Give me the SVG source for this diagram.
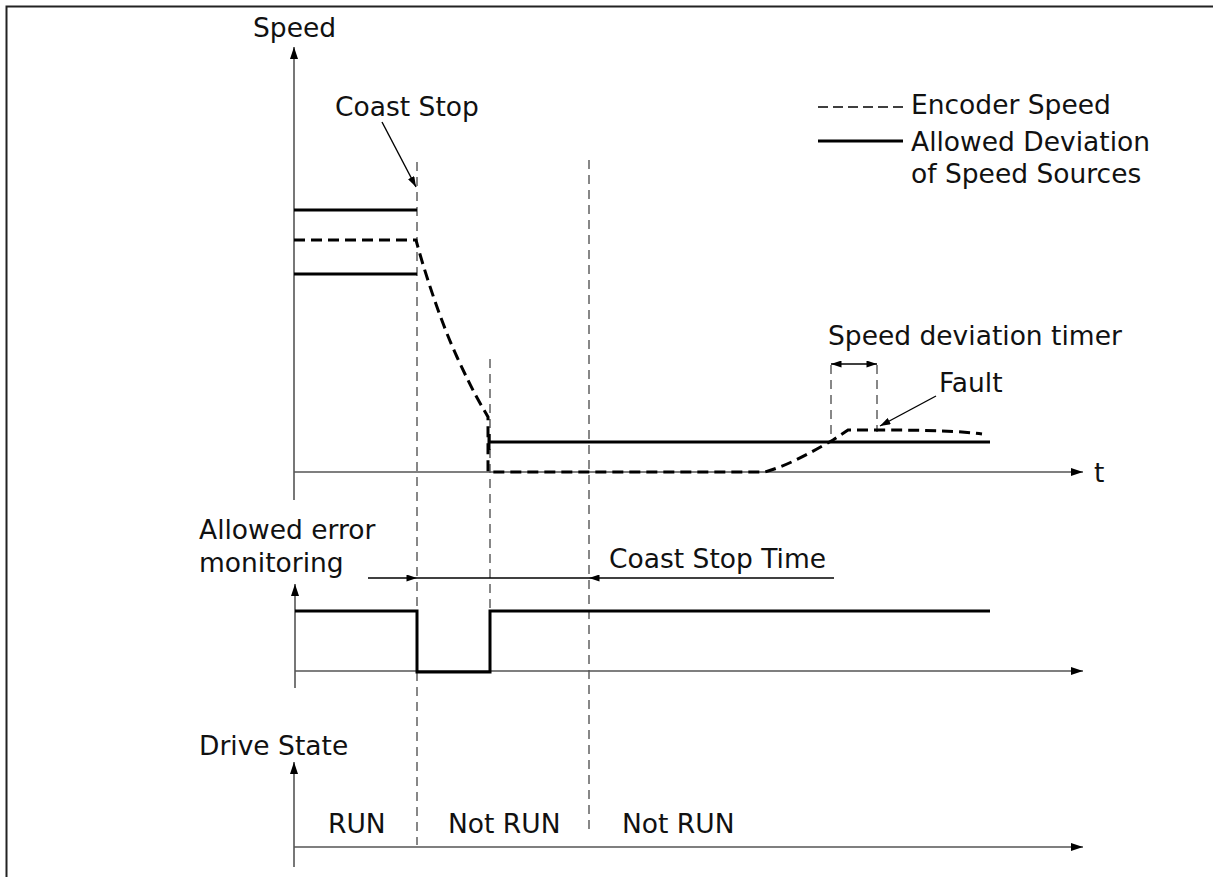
<svg xmlns="http://www.w3.org/2000/svg" width="1213" height="877" viewBox="0 0 1213 877">
<defs>
<marker id="ah" viewBox="0 0 12 8" refX="12" refY="4" markerWidth="12" markerHeight="8" markerUnits="userSpaceOnUse" orient="auto-start-reverse"><path d="M0,0 L12,4 L0,8 Z" fill="#000"/></marker>
<marker id="ahs" viewBox="0 0 12 8" refX="12" refY="4" markerWidth="11" markerHeight="7" markerUnits="userSpaceOnUse" orient="auto-start-reverse"><path d="M0,0 L12,4 L0,8 Z" fill="#000"/></marker>
</defs>
<style>
text{font-family:"DejaVu Sans","Verdana",sans-serif;font-size:26.5px;fill:#111}
.axis{stroke:#555;stroke-width:1.6;fill:none}
.vdash{stroke:#555;stroke-width:1.4;stroke-dasharray:9,6;fill:none}
.solid{stroke:#000;stroke-width:3;fill:none}
.enc{stroke:#000;stroke-width:3;stroke-dasharray:11,6;fill:none}
.thin{stroke:#000;stroke-width:1.4;fill:none}
</style>
<rect x="0" y="0" width="1213" height="877" fill="#fff"/>
<path d="M6.5,877 V6.5 H1213" stroke="#222" stroke-width="2" fill="none"/>

<g id="connectors">
<line class="vdash" x1="417" y1="162" x2="417" y2="845"/>
<line class="vdash" x1="490" y1="359" x2="490" y2="672"/>
<line class="vdash" x1="589" y1="160" x2="589" y2="832"/>
<line class="vdash" x1="831" y1="365" x2="831" y2="441"/>
<line class="vdash" x1="877" y1="365" x2="877" y2="432"/>
</g>

<g id="speed-chart">
<line class="axis" x1="294" y1="500" x2="294" y2="47" marker-end="url(#ah)"/>
<line class="axis" x1="294" y1="472" x2="1083" y2="472" marker-end="url(#ah)"/>
<text x="253" y="37">Speed</text>
<text x="1094" y="482">t</text>
<path class="solid" d="M294,210 H417"/>
<path class="solid" d="M294,274 H417"/>
<path class="solid" d="M489,434 V450 M489,442 H990"/>
<path class="enc" d="M294,240 H416 C424,270 440,320 457,357 S480,403 488,417 V472 H765 C790,465 815,450 833,440 L848,430 H880 C930,430 960,431 982,434"/>
</g>

<g id="coast-stop-label">
<text x="335" y="116">Coast Stop</text>
<line class="thin" x1="382" y1="122" x2="416" y2="187" marker-end="url(#ahs)"/>
</g>

<g id="legend">
<line class="thin" x1="818" y1="107" x2="904" y2="107" stroke-dasharray="10,5" stroke-width="2.2"/>
<text x="911" y="114">Encoder Speed</text>
<line class="solid" x1="818" y1="141" x2="903" y2="141" stroke-width="2.6"/>
<text x="911" y="151">Allowed Deviation</text>
<text x="911" y="183">of Speed Sources</text>
</g>

<g id="speed-deviation-timer">
<text x="828" y="345">Speed deviation timer</text>
<line class="thin" x1="831" y1="364" x2="877" y2="364" marker-start="url(#ahs)" marker-end="url(#ahs)"/>
</g>

<g id="fault-label">
<text x="939" y="392">Fault</text>
<line class="thin" x1="936" y1="396" x2="880" y2="426" marker-end="url(#ahs)"/>
</g>

<g id="monitoring-chart">
<text x="199" y="539">Allowed error</text>
<text x="199" y="572">monitoring</text>
<line class="axis" x1="295" y1="688" x2="295" y2="584" marker-end="url(#ah)"/>
<line class="axis" x1="295" y1="671" x2="1083" y2="671" stroke="#000" marker-end="url(#ah)"/>
<path class="solid" d="M295,611 H417 V672 H490 V611 H990"/>
</g>

<g id="coast-stop-time">
<line class="thin" x1="368" y1="578" x2="417" y2="578" marker-end="url(#ahs)"/>
<line class="thin" x1="417" y1="578" x2="589" y2="578"/>
<line class="thin" x1="834" y1="578" x2="589" y2="578" marker-end="url(#ahs)"/>
<text x="609" y="568">Coast Stop Time</text>
</g>

<g id="drive-state-chart">
<text x="199" y="755">Drive State</text>
<line class="axis" x1="294" y1="867" x2="294" y2="762" marker-end="url(#ah)"/>
<line class="axis" x1="294" y1="847" x2="1083" y2="847" marker-end="url(#ah)"/>
<text x="328" y="833">RUN</text>
<text x="448" y="833">Not RUN</text>
<text x="622" y="833">Not RUN</text>
</g>
</svg>
